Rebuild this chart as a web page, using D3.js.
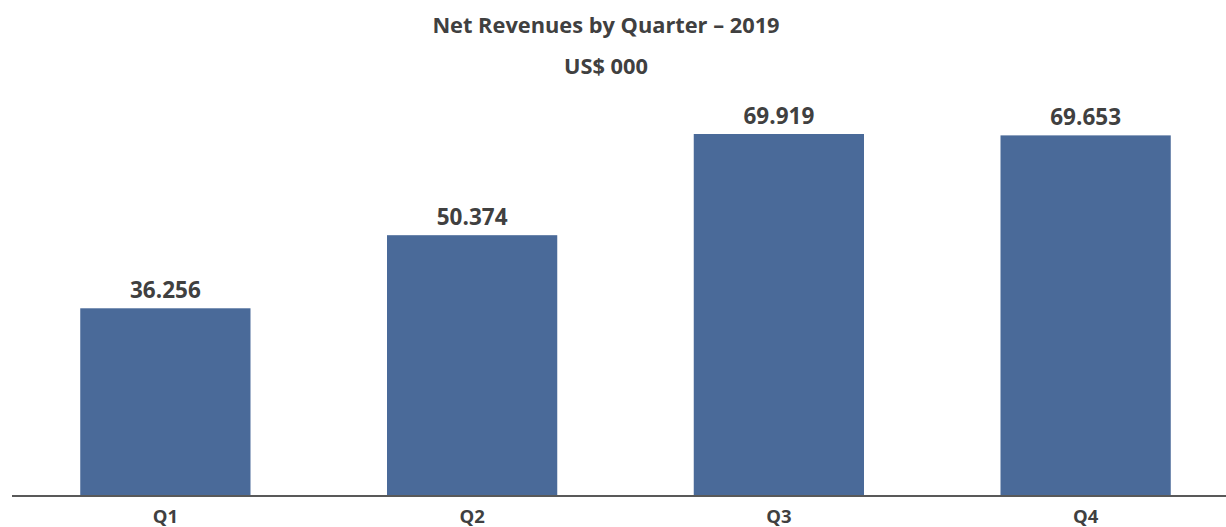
<!DOCTYPE html>
<html>
<head>
<meta charset="utf-8">
<script src="https://cdn.jsdelivr.net/npm/d3@7"></script>
<style>
  body { margin: 0; background: #fff; }
  svg text { font-family: "Open Sans", Lato, sans-serif; font-weight: bold; fill: #404040; }
</style>
</head>
<body>
<div id="chart"></div>
<script>
// Chart data
const quarters = ["Q1", "Q2", "Q3", "Q4"];
const revenues = [36256, 50374, 69919, 69653];
const valueLabels = ["36.256", "50.374", "69.919", "69.653"];
const titleText = "Net Revenues by Quarter \u2013 2019";
const subtitleText = "US$ 000";

const width = 1226, height = 527;
const baseY = 496;

const svg = d3.select("#chart")
  .append("svg")
  .attr("width", width)
  .attr("height", height);

// x-scale: one band per quarter
const x = d3.scaleBand()
  .domain(quarters)
  .range([12, 1239])
  .paddingInner(0.445)
  .paddingOuter(0.2225);

// y-scale: revenue to pixels
const y = d3.scaleLinear()
  .domain([0, 69919])
  .range([baseY, 134]);

// Title lines
svg.append("text")
  .attr("x", 606)
  .attr("y", 33)
  .attr("text-anchor", "middle")
  .style("font-size", "21.8px")
  .text(titleText);

svg.append("text")
  .attr("x", 606)
  .attr("y", 74)
  .attr("text-anchor", "middle")
  .style("font-size", "21.8px")
  .text(subtitleText);

// Bars
svg.append("g")
  .selectAll("rect")
  .data(revenues)
  .enter()
  .append("rect")
  .attr("x", (d, i) => x(quarters[i]))
  .attr("y", (d) => y(d))
  .attr("width", x.bandwidth())
  .attr("height", (d) => baseY - y(d))
  .attr("fill", "#4a6a99");

// Value labels above bars
svg.append("g")
  .selectAll("text")
  .data(revenues)
  .enter()
  .append("text")
  .attr("x", (d, i) => x(quarters[i]) + x.bandwidth() / 2)
  .attr("y", (d) => y(d) - 10)
  .attr("text-anchor", "middle")
  .style("font-size", "22.5px")
  .text((d, i) => valueLabels[i]);

// Baseline axis with category labels
const axis = svg.append("g")
  .attr("transform", `translate(0,${baseY})`)
  .call(d3.axisBottom(x).tickSize(0).tickPadding(14));

axis.select(".domain")
  .attr("d", `M12,0H${width}`)
  .attr("stroke", "#595959")
  .attr("stroke-width", 2);

axis.selectAll("text")
  .style("font-size", "18.5px")
  .attr("fill", "#404040");
</script>
</body>
</html>
